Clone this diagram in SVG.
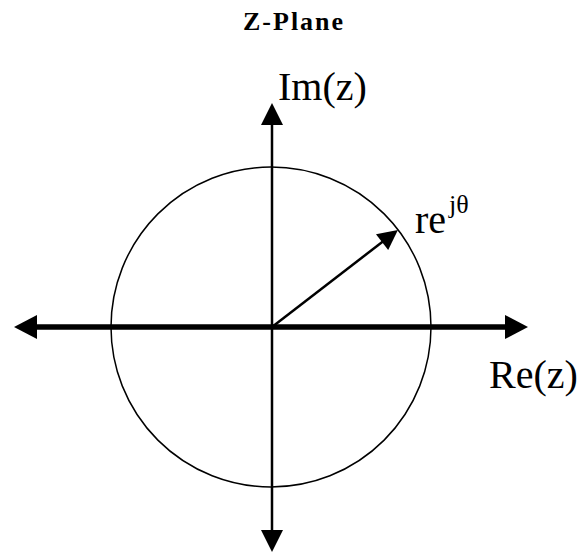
<svg xmlns="http://www.w3.org/2000/svg" width="579" height="553" viewBox="0 0 579 553">
  <style>
    .lbl { font-family: "Liberation Serif", "Times New Roman", serif; fill: #000; }
    .axisH { stroke: #000; stroke-width: 5.5; fill: none; }
    .axisV { stroke: #000; stroke-width: 2.5; fill: none; }
    .vec { stroke: #000; stroke-width: 2.5; fill: none; }
    .circ { stroke: #000; stroke-width: 1.5; fill: none; }
  </style>
  <defs>
    <marker id="hHead" markerUnits="userSpaceOnUse" markerWidth="23" markerHeight="24" refX="11" refY="12" orient="auto-start-reverse" overflow="visible">
      <path d="M0,0 L23,12 L0,24 z" fill="#000"/>
    </marker>
    <marker id="vHead" markerUnits="userSpaceOnUse" markerWidth="22" markerHeight="22" refX="10" refY="11" orient="auto-start-reverse" overflow="visible">
      <path d="M0,0 L22,11 L0,22 z" fill="#000"/>
    </marker>
    <marker id="dHead" markerUnits="userSpaceOnUse" markerWidth="20" markerHeight="20" refX="10" refY="10" orient="auto" overflow="visible">
      <path d="M0,0 L20,10 L0,20 z" fill="#000"/>
    </marker>
  </defs>
  <rect x="0" y="0" width="579" height="553" fill="#fff"/>

  <g id="title">
    <text class="lbl" x="243" y="30" font-size="26" font-weight="bold" letter-spacing="2">Z-Plane</text>
  </g>

  <g id="unit-circle">
    <circle class="circ" cx="271" cy="327" r="160"/>
  </g>

  <g id="connectors">
    <line id="re-axis" class="axisH" x1="26" y1="327" x2="516" y2="327" marker-start="url(#hHead)" marker-end="url(#hHead)"/>
    <line id="im-axis" class="axisV" x1="272" y1="115" x2="272" y2="540" marker-start="url(#vHead)" marker-end="url(#vHead)"/>
    <line id="vector" class="vec" x1="272" y1="327" x2="390" y2="236" marker-end="url(#dHead)"/>
  </g>

  <g id="label-im">
    <text class="lbl" x="278" y="100" font-size="40">Im(z)</text>
  </g>
  <g id="label-re">
    <text class="lbl" x="489" y="388" font-size="40">Re(z)</text>
  </g>
  <g id="label-vec">
    <text class="lbl" x="415" y="233" font-size="40">re<tspan x="449" y="213" font-size="26">jθ</tspan></text>
  </g>
</svg>
